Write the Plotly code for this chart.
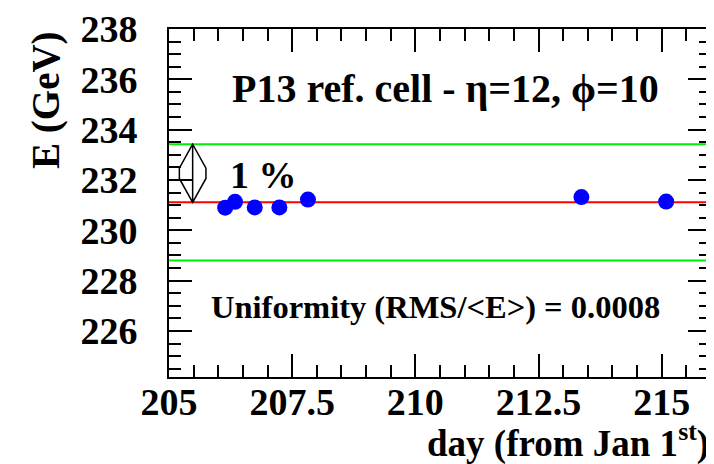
import plotly.graph_objects as go

# ---- data ----
days = [206.14, 206.34, 206.74, 207.24, 207.82, 213.37, 215.09]
energy = [230.90, 231.13, 230.91, 230.91, 231.22, 231.32, 231.14]
E_ref = 231.11          # reference (mean) energy, red line
band = 0.01             # +-1 % band, green lines

x_range = [205, 216]
y_range = [224.17, 238]
x_ticks = [205, 207.5, 210, 212.5, 215]
x_ticklabels = ["205", "207.5", "210", "212.5", "215"]
y_ticks = [226, 228, 230, 232, 234, 236, 238]
y_ticklabels = ["226", "228", "230", "232", "234", "236", "238"]

title_text = "P13 ref. cell - η=12, ϕ=10"
pct_text = "1 %"
unif_text = "Uniformity (RMS/&lt;E&gt;) = 0.0008"
x_title = "day (from Jan 1<sup>st</sup>)"
y_title = "E (GeV)"

FONT = "Liberation Serif"


def f(size):
    return dict(family=FONT, size=size, color="black", weight="bold")


fig = go.Figure()
fig.add_trace(go.Scatter(
    x=days, y=energy, mode="markers",
    marker=dict(color="#0000ff", size=16, line=dict(width=0)),
    showlegend=False, hoverinfo="skip",
))

# horizontal reference lines
shapes = [
    dict(type="line", xref="paper", x0=0, x1=1, yref="y", y0=E_ref * (1 + band), y1=E_ref * (1 + band),
         line=dict(color="#00ee00", width=2), layer="below"),
    dict(type="line", xref="paper", x0=0, x1=1, yref="y", y0=E_ref * (1 - band), y1=E_ref * (1 - band),
         line=dict(color="#00ee00", width=2), layer="below"),
    dict(type="line", xref="paper", x0=0, x1=1, yref="y", y0=E_ref, y1=E_ref,
         line=dict(color="#ff0000", width=2), layer="below"),
]

# double-headed arrow marking the 1 % band
ax = 205.48
hw = 0.27   # half width of head (days)
hl = 0.95   # head length (GeV)
top = E_ref * (1 + band)
bot = E_ref
path = (f"M {ax},{top} L {ax - hw},{top - hl} L {ax - hw},{bot + hl} L {ax},{bot} "
        f"L {ax + hw},{bot + hl} L {ax + hw},{top - hl} Z M {ax},{top} L {ax},{bot}")
shapes.append(dict(type="path", xref="x", yref="y", path=path,
                   line=dict(color="black", width=1.5), fillcolor="rgba(0,0,0,0)"))

annotations = [
    dict(text=title_text, xref="x", yref="y", x=210.62, y=235.65, showarrow=False,
         xanchor="center", yanchor="middle", font=f(40)),
    dict(text=pct_text, xref="x", yref="y", x=206.92, y=232.2, showarrow=False,
         xanchor="center", yanchor="middle", font=f(38)),
    dict(text=unif_text, xref="x", yref="y", x=210.4, y=226.95, showarrow=False,
         xanchor="center", yanchor="middle", font=f(32.5)),
    dict(text=x_title, xref="paper", yref="paper", x=1.0, y=-0.26, showarrow=False,
         xanchor="right", yanchor="bottom", font=f(37)),
    dict(text=y_title, xref="paper", yref="paper", x=-0.227, y=0.796, showarrow=False,
         xanchor="center", yanchor="middle", textangle=-90, font=f(39)),
]

axis_common = dict(
    ticks="inside", tickwidth=2, tickcolor="black", ticklen=23,
    showline=True, linewidth=2, linecolor="black", mirror="ticks",
    showgrid=False, zeroline=False, automargin=False,
)

fig.update_layout(
    width=714, height=464,
    margin=dict(l=161, r=11, t=21, b=95),
    paper_bgcolor="white", plot_bgcolor="white",
    shapes=shapes, annotations=annotations,
    xaxis=dict(range=x_range, tickmode="array", tickvals=x_ticks, ticktext=x_ticklabels,
               tickfont=f(38), ticklabelstandoff=-10,
               minor=dict(ticks="inside", dtick=0.5, tick0=205, ticklen=12, tickwidth=2,
                          tickcolor="black", showgrid=False),
               **axis_common),
    yaxis=dict(range=y_range, tickmode="array", tickvals=y_ticks, ticktext=y_ticklabels,
               tickfont=f(38), ticklabelstandoff=22,
               minor=dict(ticks="inside", dtick=0.5, tick0=224, ticklen=12, tickwidth=2,
                          tickcolor="black", showgrid=False),
               **axis_common),
)

fig.write_html("out.html")
